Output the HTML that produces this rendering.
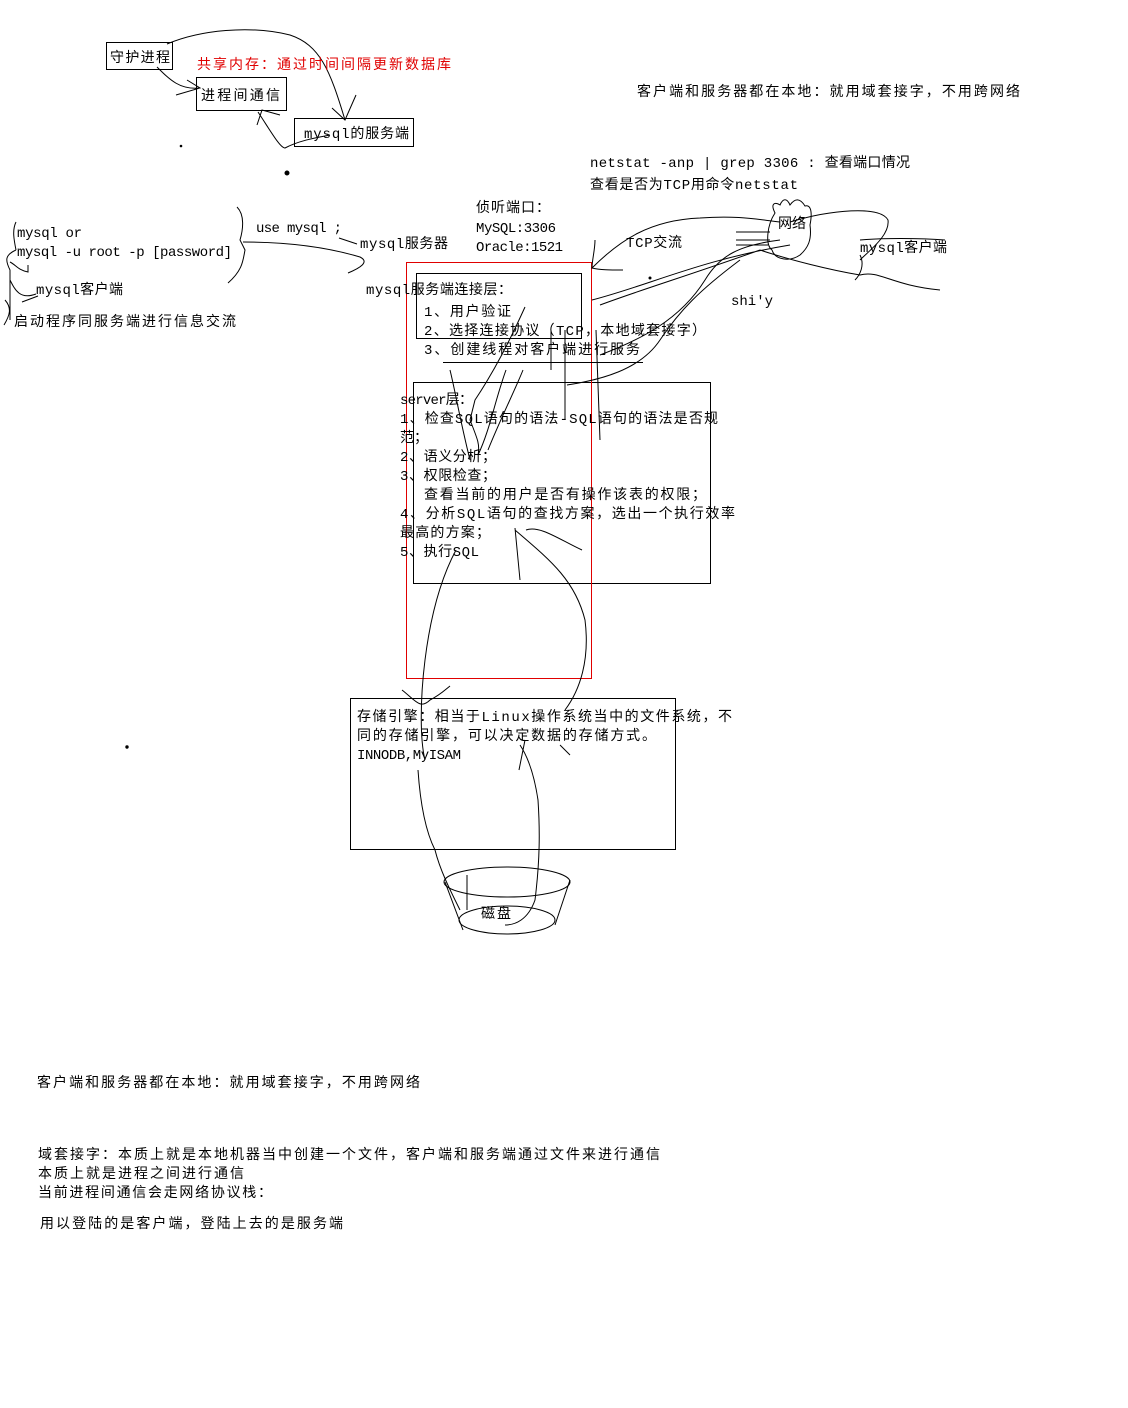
<!DOCTYPE html>
<html><head><meta charset="utf-8"><style>
html,body{margin:0;padding:0;background:#fff;}
svg{display:block;}
text{font-family:"Liberation Mono","Noto Sans CJK SC",monospace;font-size:14px;fill:#000;}
</style></head><body>
<svg width="1128" height="1408" viewBox="0 0 1128 1408" xmlns="http://www.w3.org/2000/svg">
<g fill="none" stroke="#000" stroke-width="1">
<!-- boxes -->
<rect x="106.5" y="42.5" width="66" height="27"/>
<rect x="196.5" y="77.5" width="90" height="33"/>
<rect x="294.5" y="118.5" width="119" height="28"/>
<rect x="416.5" y="273.5" width="165" height="65"/>
<rect x="413.5" y="382.5" width="297" height="201"/>
<rect x="350.5" y="698.5" width="325" height="151"/>
<rect x="406.5" y="262.5" width="185" height="416" stroke="#e00000"/>
<line x1="443" y1="362.5" x2="643" y2="362.5"/>
<!-- disk -->
<ellipse cx="507" cy="882" rx="63" ry="15"/>
<ellipse cx="507" cy="920" rx="48" ry="14"/>
<line x1="445" y1="882" x2="463" y2="930"/>
<line x1="570" y1="880" x2="555" y2="925"/>
<line x1="467" y1="875" x2="467" y2="910"/>
<!-- top curves -->
<path d="M157 67 C170 80 180 90 200 88 M176 95 L200 88 L187 80"/>
<path d="M167 44 C200 30 250 25 290 35 C320 45 330 70 345 120 M332 108 L345 120 L356 95"/>
<path d="M258 112 C270 130 280 148 285 148 C300 140 320 137 330 135 M257 125 L262 110 L280 115"/>
<circle cx="287" cy="173" r="2" fill="#000"/>
<!-- left braces -->
<path d="M16 222 C12 230 14 240 16 250 M16 250 C5 255 5 260 10 270 L10 320 M4 325 C10 315 12 308 5 300"/>
<path d="M10 262 C16 265 18 270 28 272 L28 265"/>
<path d="M10 280 C15 290 20 300 36 294 M22 302 L38 296"/>
<path d="M237 207 C245 215 243 230 240 240 L245 250 C243 260 243 270 228 283"/>
<path d="M243 242 C280 242 320 245 360 257 C370 262 360 268 348 273 M339 238 L357 244"/>
<!-- network area -->
<path d="M595 240 C595 250 592 260 592 268 C620 240 650 220 700 218 C740 215 760 220 780 222 M592 268 C600 270 610 270 623 270"/>
<path d="M790 222 C830 210 880 205 888 220 C890 235 870 250 860 260"/>
<path d="M775 213 C770 203 775 202 780 205 C783 198 787 198 790 205 C795 198 800 198 805 206 C812 204 812 215 810 225 C812 240 808 248 800 255 C790 262 775 260 772 250 C765 245 767 225 775 213 Z"/>
<path d="M736 240 L770 240 M736 245 L768 245 M736 232 L770 232"/>
<path d="M592 300 C650 285 700 260 790 245 M600 305 C640 290 690 275 760 250"/>
<path d="M760 250 C790 260 830 270 860 275 C880 270 890 285 940 290 M860 255 C865 265 860 275 855 280"/>
<path d="M860 240 C880 238 920 238 945 240"/>
<path d="M600 355 C640 340 680 320 705 280 C720 255 740 245 780 240"/>
<path d="M567 385 C600 380 640 370 660 340 C680 310 700 290 740 260"/>
<circle cx="650" cy="278" r="1" fill="#000"/>
<!-- verticals through layers -->
<path d="M525 307 C510 340 495 370 475 400 L470 420 C478 440 480 445 478 455 C490 430 495 400 506 370"/>
<path d="M551 330 L551 370 M565 330 L565 420"/>
<path d="M523 370 C515 390 500 420 488 450"/>
<path d="M450 370 C455 390 460 420 470 460"/>
<path d="M596 330 L600 440"/>
<path d="M526 530 C540 525 560 540 582 550"/>
<path d="M515 528 L520 580 M515 530 C550 560 575 580 585 620 C590 660 580 690 565 710"/>
<path d="M456 550 C440 580 430 620 425 660 C420 700 420 740 425 760"/>
<path d="M402 690 C415 700 420 710 430 700 C440 695 445 690 450 686"/>
<path d="M525 740 L519 770 M520 745 C530 760 535 780 538 800 C540 830 540 860 535 900 C528 920 515 925 505 925"/>
<path d="M418 770 C420 800 425 830 435 850 C440 870 450 890 460 910"/>
<path d="M560 745 L570 755"/>
<circle cx="127" cy="747" r="1.2" fill="#000"/>
<circle cx="181" cy="146" r="0.8" fill="#000"/>
</g>
<!-- text -->
<text x="110" y="62" textLength="60">守护进程</text>
<text x="197" y="69" fill="#e00000" style="fill:#e00000" textLength="254">共享内存：通过时间间隔更新数据库</text>
<text x="201" y="100" textLength="79">进程间通信</text>
<text x="304" y="138" textLength="105">mysql的服务端</text>
<text x="637" y="96" textLength="383">客户端和服务器都在本地：就用域套接字，不用跨网络</text>
<text x="590" y="167" textLength="320">netstat -anp | grep 3306 :  查看端口情况</text>
<text x="590" y="189" textLength="208">查看是否为TCP用命令netstat</text>
<text x="476" y="212" textLength="74">侦听端口：</text>
<text x="476" y="232" textLength="80">MySQL:3306</text>
<text x="476" y="251" textLength="87">Oracle:1521</text>
<text x="256" y="232" textLength="86">use mysql ;</text>
<text x="17" y="237" textLength="65">mysql or</text>
<text x="17" y="256" textLength="215">mysql -u root -p [password]</text>
<text x="360" y="248" textLength="88">mysql服务器</text>
<text x="36" y="294" textLength="87">mysql客户端</text>
<text x="14" y="326" textLength="222">启动程序同服务端进行信息交流</text>
<text x="366" y="294" textLength="146">mysql服务端连接层：</text>
<text x="424" y="316" textLength="87">1、用户验证</text>
<text x="424" y="335" textLength="282">2、选择连接协议（TCP，本地域套接字）</text>
<text x="424" y="354" textLength="216">3、创建线程对客户端进行服务</text>
<text x="626" y="247" textLength="56">TCP交流</text>
<text x="778" y="228" textLength="28">网络</text>
<text x="860" y="252" textLength="87">mysql客户端</text>
<text x="731" y="305">shi'y</text>
<text x="400" y="404" textLength="73">server层：</text>
<text x="400" y="423" textLength="318">1、检查SQL语句的语法-SQL语句的语法是否规</text>
<text x="400" y="442">范；</text>
<text x="400" y="461" textLength="96">2、语义分析；</text>
<text x="400" y="480" textLength="96">3、权限检查；</text>
<text x="424" y="499" textLength="282">查看当前的用户是否有操作该表的权限；</text>
<text x="400" y="518" textLength="335">4、分析SQL语句的查找方案，选出一个执行效率</text>
<text x="400" y="537" textLength="90">最高的方案；</text>
<text x="400" y="556" textLength="79">5、执行SQL</text>
<text x="357" y="721" textLength="375">存储引擎：相当于Linux操作系统当中的文件系统，不</text>
<text x="357" y="740" textLength="299">同的存储引擎，可以决定数据的存储方式。</text>
<text x="357" y="759" textLength="104">INNODB,MyISAM</text>
<text x="481" y="918" textLength="30">磁盘</text>
<text x="37" y="1087" textLength="383">客户端和服务器都在本地：就用域套接字，不用跨网络</text>
<text x="38" y="1159" textLength="622">域套接字：本质上就是本地机器当中创建一个文件，客户端和服务端通过文件来进行通信</text>
<text x="38" y="1178" textLength="206">本质上就是进程之间进行通信</text>
<text x="38" y="1197" textLength="234">当前进程间通信会走网络协议栈：</text>
<text x="40" y="1228" textLength="303">用以登陆的是客户端，登陆上去的是服务端</text>
</svg>
</body></html>
